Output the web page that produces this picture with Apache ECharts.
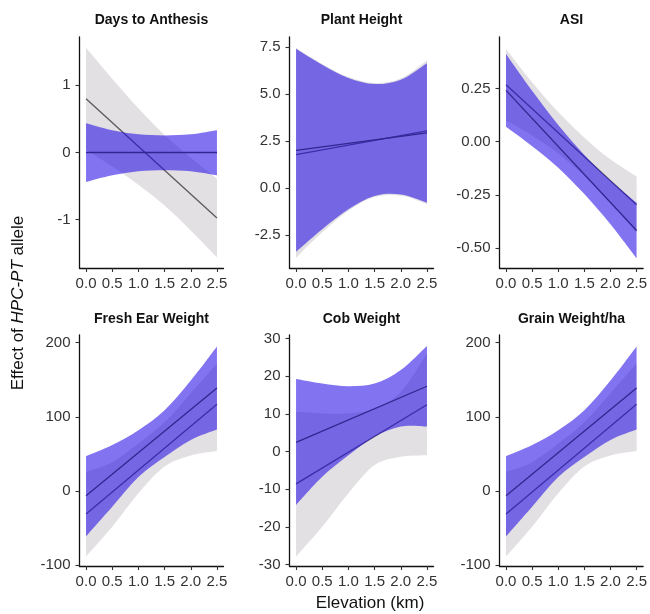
<!DOCTYPE html>
<html lang="en">
<head>
<meta charset="UTF-8">
<title>Effect of HPC-PT allele vs elevation</title>
<script src="https://cdn.jsdelivr.net/npm/echarts@6/dist/echarts.min.js"></script>
<style>html,body{margin:0;padding:0;background:#fff;}</style>
</head>
<body>
<div id="main" style="width:650px;height:614px;"></div>
<script>
// elevation (km) where ribbon edges were read, and line end points
var elev = [0, 0.5, 1, 1.5, 2, 2.5];
var lineEnds = [0, 2.5];
var xTicks = [0, 0.5, 1, 1.5, 2, 2.5];

var titles = ['Days to Anthesis', 'Plant Height', 'ASI', 'Fresh Ear Weight', 'Cob Weight', 'Grain Weight/ha'];

// Days to Anthesis
var dtaGreyLo = [0.04, -0.21, -0.48, -0.79, -1.16, -1.56];
var dtaGreyHi = [1.56, 1.10, 0.66, 0.26, -0.08, -0.39];
var dtaGreyLine = [0.80, -0.975];
var dtaPurpLo = [-0.44, -0.34, -0.28, -0.265, -0.28, -0.34];
var dtaPurpHi = [0.435, 0.33, 0.27, 0.255, 0.27, 0.33];
var dtaPurpLine = [0, 0];
var dtaTicks = [-1, 0, 1];

// Plant Height
var phGreyLo = [-3.7, -2.35, -1.2, -0.48, -0.4, -0.85];
var phGreyHi = [7.45, 6.6, 5.9, 5.58, 5.82, 6.78];
var phGreyLine = [1.78, 3.04];
var phPurpLo = [-3.39, -2.19, -1.13, -0.42, -0.34, -0.78];
var phPurpHi = [7.4, 6.55, 5.85, 5.53, 5.76, 6.64];
var phPurpLine = [2.0, 2.93];
var phTicks = [-2.5, 0, 2.5, 5, 7.5];

// ASI
var asiGreyLo = [0.099, 0.029, -0.055, -0.161, -0.283, -0.428];
var asiGreyHi = [0.435, 0.279, 0.139, 0.019, -0.083, -0.164];
var asiGreyLine = [0.267, -0.296];
var asiPurpLo = [0.07, -0.021, -0.122, -0.246, -0.388, -0.547];
var asiPurpHi = [0.412, 0.239, 0.078, -0.062, -0.182, -0.287];
var asiPurpLine = [0.241, -0.417];
var asiTicks = [-0.5, -0.25, 0, 0.25];

// Fresh Ear Weight
var fewGreyLo = [-88, -48, -3, 33, 48, 54];
var fewGreyHi = [26, 39, 64, 93, 132, 172];
var fewGreyLine = [-31, 117];
var fewPurpLo = [-61, -21, 19, 46, 69, 83];
var fewPurpHi = [47, 62, 82, 109, 149, 195];
var fewPurpLine = [-6.3, 139];
var fewTicks = [-100, 0, 100, 200];

// Cob Weight
var cobGreyLo = [-27.9, -20, -11.1, -3.6, -1.4, -1];
var cobGreyHi = [10.5, 10.1, 10.1, 11.4, 15.8, 26];
var cobGreyLine = [-8.6, 12.4];
var cobPurpLo = [-14.2, -6.7, -1, 3.9, 6.6, 6.6];
var cobPurpHi = [19.2, 18, 17.3, 18, 21.6, 28];
var cobPurpLine = [2.4, 17.3];
var cobTicks = [-30, -20, -10, 0, 10, 20, 30];

// Grain Weight/ha
var gwGreyLo = [-88, -48, -3, 33, 48, 54];
var gwGreyHi = [26, 39, 64, 93, 132, 172];
var gwGreyLine = [-31, 117];
var gwPurpLo = [-61, -21, 19, 46, 69, 83];
var gwPurpHi = [47, 62, 82, 109, 149, 195];
var gwPurpLine = [-6.3, 139];
var gwTicks = [-100, 0, 100, 200];

var panels = [
    {gLo: dtaGreyLo, gHi: dtaGreyHi, gLine: dtaGreyLine, pLo: dtaPurpLo, pHi: dtaPurpHi, pLine: dtaPurpLine, ticks: dtaTicks, dec: 0, min: -1.72, max: 1.72},
    {gLo: phGreyLo, gHi: phGreyHi, gLine: phGreyLine, pLo: phPurpLo, pHi: phPurpHi, pLine: phPurpLine, ticks: phTicks, dec: 1, min: -4.25, max: 8.03},
    {gLo: asiGreyLo, gHi: asiGreyHi, gLine: asiGreyLine, pLo: asiPurpLo, pHi: asiPurpHi, pLine: asiPurpLine, ticks: asiTicks, dec: 2, min: -0.593, max: 0.4915},
    {gLo: fewGreyLo, gHi: fewGreyHi, gLine: fewGreyLine, pLo: fewPurpLo, pHi: fewPurpHi, pLine: fewPurpLine, ticks: fewTicks, dec: 0, min: -101, max: 210.4},
    {gLo: cobGreyLo, gHi: cobGreyHi, gLine: cobGreyLine, pLo: cobPurpLo, pHi: cobPurpHi, pLine: cobPurpLine, ticks: cobTicks, dec: 0, min: -30.4, max: 30.9},
    {gLo: gwGreyLo, gHi: gwGreyHi, gLine: gwGreyLine, pLo: gwPurpLo, pHi: gwPurpHi, pLine: gwPurpLine, ticks: gwTicks, dec: 0, min: -101, max: 210.4}
];

var font = 'Liberation Sans, Arial, Helvetica, sans-serif';
var lefts = [79.5, 289.5, 499.5];
var tops = [37, 335];
var greyFill = '#e2e0e2';
var purpFill = 'rgba(35, 10, 230, 0.57)';
var greyLineColor = '#5a5a5a';
var purpLineColor = '#33248f';

// smooth curve (catmull-rom as bezier) through pixel points, continuing an open path
function curveTo(pts) {
    var d = '';
    for (var k = 0; k < pts.length - 1; k++) {
        var p0 = pts[Math.max(k - 1, 0)], p1 = pts[k], p2 = pts[k + 1], p3 = pts[Math.min(k + 2, pts.length - 1)];
        var c1 = [p1[0] + (p2[0] - p0[0]) / 6, p1[1] + (p2[1] - p0[1]) / 6];
        var c2 = [p2[0] - (p3[0] - p1[0]) / 6, p2[1] - (p3[1] - p1[1]) / 6];
        d += ' C' + c1[0] + ',' + c1[1] + ' ' + c2[0] + ',' + c2[1] + ' ' + p2[0] + ',' + p2[1];
    }
    return d;
}

function band(i, lo, hi, color, z) {
    return {
        type: 'custom', xAxisIndex: i, yAxisIndex: i, silent: true, clip: true, z: z,
        data: elev.map(function (x, k) { return [x, lo[k], hi[k]]; }),
        encode: {x: 0, y: [1, 2]},
        renderItem: function (params, api) {
            if (params.dataIndex !== 0) return null;
            var up = elev.map(function (x, k) { return api.coord([x, hi[k]]); });
            var dn = elev.map(function (x, k) { return api.coord([x, lo[k]]); }).reverse();
            var d = 'M' + up[0][0] + ',' + up[0][1] + curveTo(up) +
                ' L' + dn[0][0] + ',' + dn[0][1] + curveTo(dn) + ' Z';
            return {type: 'path', shape: {pathData: d}, style: {fill: color}};
        }
    };
}

function fitLine(i, ends, color, z) {
    return {
        type: 'line', xAxisIndex: i, yAxisIndex: i, symbol: 'none', silent: true, z: z,
        data: lineEnds.map(function (x, k) { return [x, ends[k]]; }),
        lineStyle: {color: color, width: 1.3}
    };
}

var grids = [], xAxes = [], yAxes = [], series = [], graphics = [];

panels.forEach(function (p, i) {
    var col = i % 3, row = Math.floor(i / 3);
    grids.push({left: lefts[col], top: tops[row], width: 144, height: 231});
    xAxes.push({
        gridIndex: i, type: 'value', min: -0.125, max: 2.625,
        axisLine: {onZero: false, lineStyle: {color: '#111', width: 1.3}},
        axisTick: {customValues: xTicks, length: 4, lineStyle: {color: '#333', width: 1.1}},
        axisLabel: {customValues: xTicks, interval: 0, fontSize: 15, fontFamily: font, color: '#333', margin: 8,
            formatter: function (v) { return v.toFixed(1); }},
        splitLine: {show: false}
    });
    yAxes.push({
        gridIndex: i, type: 'value', min: p.min, max: p.max,
        axisLine: {show: true, onZero: false, lineStyle: {color: '#111', width: 1.3}},
        axisTick: {show: true, customValues: p.ticks, length: 4, lineStyle: {color: '#333', width: 1.1}},
        axisLabel: {customValues: p.ticks, interval: 0, fontSize: 15, fontFamily: font, color: '#333', margin: 9,
            formatter: function (v) { return v.toFixed(p.dec); }},
        splitLine: {show: false}
    });
    // draw order: grey ribbon, grey fit, purple ribbon, purple fit
    series.push(band(i, p.gLo, p.gHi, greyFill, 1));
    series.push(fitLine(i, p.gLine, greyLineColor, 2));
    series.push(band(i, p.pLo, p.pHi, purpFill, 3));
    series.push(fitLine(i, p.pLine, purpLineColor, 4));

    graphics.push({
        type: 'text', x: lefts[col] + 72, y: row === 0 ? 20 : 319,
        style: {text: titles[i], fontSize: 14, fontWeight: 'bold', fontFamily: font, fill: '#111',
            align: 'center', verticalAlign: 'middle'}
    });
});

graphics.push({
    type: 'text', x: 370, y: 603,
    style: {text: 'Elevation (km)', fontSize: 17, fontFamily: font, fill: '#111', align: 'center', verticalAlign: 'middle'}
});
graphics.push({
    type: 'text', x: 18, y: 303, rotation: Math.PI / 2,
    style: {
        text: '{n|Effect of }{i|HPC-PT}{n| allele}',
        align: 'center', verticalAlign: 'middle',
        rich: {
            n: {fontSize: 17, fontFamily: font, fill: '#111'},
            i: {fontSize: 17, fontFamily: font, fontStyle: 'italic', fill: '#111'}
        }
    }
});

var myChart = echarts.init(document.getElementById('main'));
myChart.setOption({
    animation: false,
    grid: grids,
    xAxis: xAxes,
    yAxis: yAxes,
    series: series,
    graphic: graphics
});
</script>
</body>
</html>
